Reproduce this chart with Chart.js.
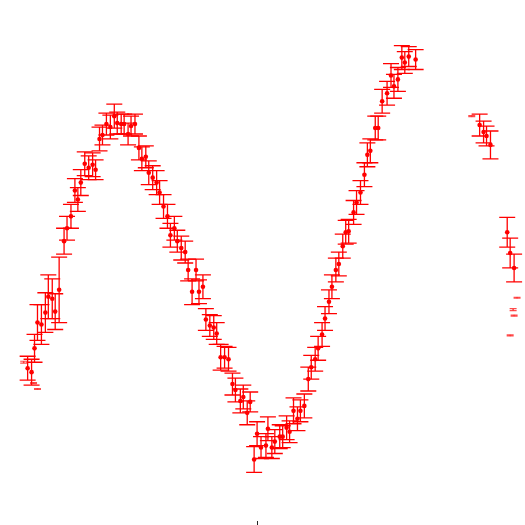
<!DOCTYPE html>
<html>
<head>
<meta charset="utf-8">
<script src="https://cdn.jsdelivr.net/npm/chart.js@4/dist/chart.umd.min.js"></script>
<style>html,body{margin:0;padding:0;background:#fff;}canvas{display:block;}</style>
</head>
<body>
<canvas id="c" width="525" height="525"></canvas>
<script>
const phaseMain = [-2.335,-2.295,-2.265,-2.235,-2.195,-2.155,-2.125,-2.085,-2.055,-2.015,-1.965,-1.935,-1.895,-1.855,-1.825,-1.795,-1.755,-1.715,-1.675,-1.645,-1.605,-1.575,-1.535,-1.495,-1.455,-1.425,-1.385,-1.355,-1.315,-1.285,-1.245,
-1.205,-1.175,-1.135,-1.105,-1.065,-1.025,-0.995,-0.955,-0.915,-0.885,-0.845,-0.815,-0.775,-0.735,-0.705,-0.665,-0.625,-0.595,-0.555,-0.525,-0.485,-0.445,-0.415,-0.375,-0.335,-0.295,-0.255,-0.225,-0.175,-0.145,-0.105,-0.075,-0.035,-0.005,0.035,0.085,0.105,0.145,0.175,0.225,0.255,0.295,0.325,0.365,0.405,0.435,0.475,
0.515,0.545,0.585,0.615,0.655,0.685,0.725,0.755,0.795,0.825,0.865,0.895,0.925,0.975,1.005,1.045,1.085,1.115,1.145,1.195,1.225,1.265,1.315,1.355,1.385,1.425,1.465,1.495,1.535,1.605,
2.255,2.295,2.325,2.365,2.535,2.565,2.605];
const magMain = [1.54,1.50,1.74,2.00,1.98,2.10,2.26,2.24,2.11,2.33,2.82,2.95,3.07,3.33,3.24,3.41,3.60,3.56,3.59,3.54,3.85,3.89,4.00,3.97,4.08,4.01,4.00,4.00,3.90,3.98,4.00,
3.76,3.65,3.67,3.51,3.46,3.41,3.31,3.17,3.07,2.88,2.95,2.82,2.75,2.71,2.53,2.31,2.53,2.31,2.36,2.03,1.97,1.95,1.89,1.65,1.65,1.63,1.38,1.32,1.21,1.25,1.09,1.20,0.62,0.88,0.74,0.76,0.93,0.74,0.80,0.85,0.85,0.94,0.90,1.11,1.03,1.11,1.16,
1.43,1.55,1.63,1.74,1.88,2.04,2.21,2.36,2.53,2.59,2.77,2.91,2.92,3.11,3.21,3.31,3.49,3.69,3.73,3.96,3.96,4.23,4.31,4.49,4.38,4.45,4.67,4.62,4.68,4.65,
3.99,3.92,3.88,3.79,2.91,2.70,2.55];
const errMain = [0.12,0.13,0.14,0.18,0.20,0.20,0.22,0.20,0.18,0.33,0.13,0.12,0.12,0.12,0.12,0.13,0.12,0.12,0.12,0.10,0.12,0.10,0.11,0.12,0.12,0.11,0.10,0.10,0.11,0.10,0.10,
0.12,0.12,0.11,0.12,0.12,0.12,0.12,0.12,0.12,0.12,0.12,0.11,0.12,0.11,0.11,0.13,0.11,0.12,0.12,0.11,0.11,0.12,0.11,0.13,0.11,0.12,0.11,0.12,0.12,0.12,0.12,0.10,0.13,0.12,0.11,0.12,0.12,0.11,0.12,0.12,0.11,0.12,0.11,0.13,0.12,0.11,0.12,
0.12,0.12,0.12,0.12,0.12,0.12,0.12,0.12,0.12,0.12,0.12,0.12,0.12,0.12,0.12,0.12,0.12,0.12,0.12,0.12,0.12,0.12,0.12,0.12,0.12,0.12,0.12,0.11,0.10,0.10,
0.11,0.11,0.10,0.14,0.15,0.15,0.14];
const phaseFaint = [-2.375,-2.275,-2.235,2.175,2.635,2.595,2.605,2.565];
const magFaint = [1.60,1.39,1.33,4.08,2.25,2.13,2.07,1.87];
const errFaint = [0.01,0.005,0.005,0.005,0.005,0.01,0.005,0.005];
const xTicks = [0];

const errBars = {
  id: 'errBars',
  beforeDatasetsDraw(chart) {
    const ctx = chart.ctx, xs = chart.scales.x, ys = chart.scales.y;
    chart.data.datasets.forEach(ds => {
      if (!ds.errors) return;
      ctx.save();
      ctx.strokeStyle = ds.errColor;
      ctx.lineWidth = ds.errWidth;
      const h = ds.capHalf;
      ds.data.forEach((p, i) => {
        const e = ds.errors[i];
        const px = xs.getPixelForValue(p.x);
        const t = ys.getPixelForValue(p.y + e);
        const b = ys.getPixelForValue(p.y - e);
        ctx.beginPath();
        ctx.moveTo(px, t); ctx.lineTo(px, b);
        ctx.moveTo(px - h, t); ctx.lineTo(px + h, t);
        ctx.moveTo(px - h, b); ctx.lineTo(px + h, b);
        ctx.stroke();
      });
      ctx.restore();
    });
  }
};

new Chart(document.getElementById('c'), {
  type: 'scatter',
  data: {
    datasets: [
      {
        data: phaseMain.map((x, i) => ({x, y: magMain[i]})),
        errors: errMain,
        errColor: 'rgba(255,0,0,1)',
        errWidth: 1.3,
        capHalf: 8,
        backgroundColor: '#ff0000',
        borderColor: '#ff0000',
        pointRadius: 2.3,
        borderWidth: 0
      },
      {
        data: phaseFaint.map((x, i) => ({x, y: magFaint[i]})),
        errors: errFaint,
        errColor: 'rgba(255,0,0,0.7)',
        errWidth: 1.2,
        capHalf: 3.5,
        backgroundColor: 'rgba(255,0,0,0.3)',
        borderColor: 'rgba(255,0,0,0.3)',
        pointRadius: 1,
        borderWidth: 0
      }
    ]
  },
  options: {
    responsive: false,
    animation: false,
    layout: { padding: 0 },
    plugins: { legend: { display: false }, tooltip: { enabled: false } },
    scales: {
      x: {
        type: 'linear', min: -2.575, max: 2.675,
        afterBuildTicks: axis => { axis.ticks = xTicks.map(v => ({value: v})); },
        ticks: { display: false },
        grid: { drawOnChartArea: false, drawTicks: true, tickLength: 4, color: '#222', lineWidth: 1 },
        border: { display: false }
      },
      y: { type: 'linear', min: 0, max: 5.21, display: false }
    }
  },
  plugins: [errBars]
});
</script>
</body>
</html>
